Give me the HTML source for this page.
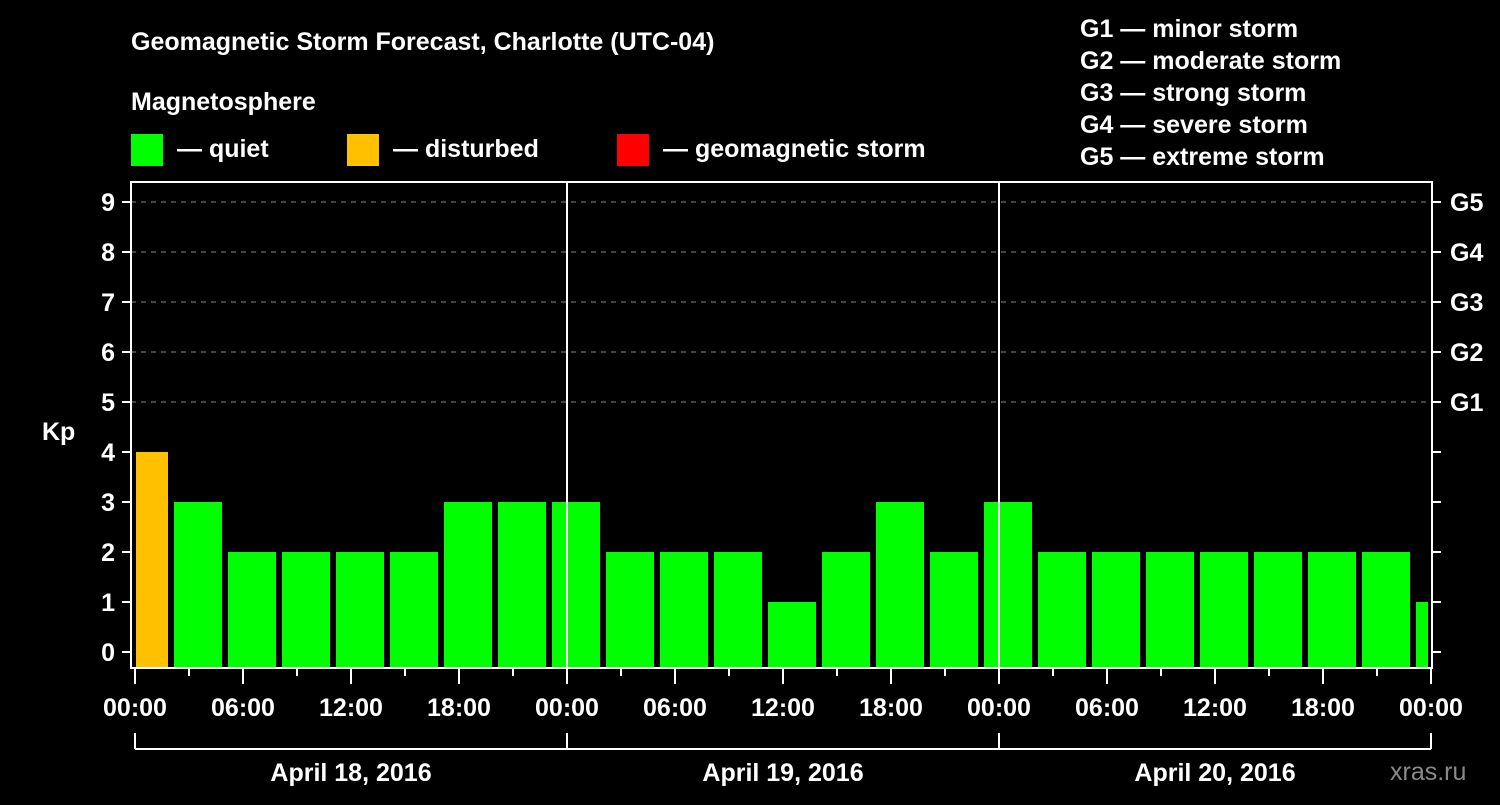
<!DOCTYPE html>
<html><head><meta charset="utf-8"><style>
body{margin:0;background:#000;width:1500px;height:800px;overflow:hidden;font-family:"Liberation Sans",sans-serif}
svg text{font-family:"Liberation Sans",sans-serif;font-weight:bold;fill:#fff}
</style></head><body>
<svg id="chart" width="1500" height="800" xmlns="http://www.w3.org/2000/svg">
<text x="131" y="50" font-size="25">Geomagnetic Storm Forecast, Charlotte (UTC-04)</text>
<text x="131" y="110" font-size="25">Magnetosphere</text>
<g>
<rect x="131" y="134" width="32" height="32" fill="#00ff00"/>
<text x="177" y="157" font-size="25">— quiet</text>
<rect x="347" y="134" width="32" height="32" fill="#ffc000"/>
<text x="393" y="157" font-size="25">— disturbed</text>
<rect x="617" y="134" width="32" height="32" fill="#ff0000"/>
<text x="663" y="157" font-size="25">— geomagnetic storm</text>
</g>
<g font-size="25">
<text x="1080" y="37">G1 — minor storm</text>
<text x="1080" y="69">G2 — moderate storm</text>
<text x="1080" y="101">G3 — strong storm</text>
<text x="1080" y="133">G4 — severe storm</text>
<text x="1080" y="165">G5 — extreme storm</text>
</g>
<text x="42" y="440" font-size="25">Kp</text>
<text x="1390" y="780" font-size="25" fill="#888" style="fill:#8a8a8a;font-weight:normal">xras.ru</text>
<g id="grid"></g><g id="bars"></g><g id="axes"></g>
</svg>
<script>
const kpValues=[4,3,2,2,2,2,3,3,3,2,2,2,1,2,3,2,3,2,2,2,2,2,2,2,1];
const startHour=-1;
const yTicks=[0,1,2,3,4,5,6,7,8,9];
const gLabels=["G1","G2","G3","G4","G5"];
const xTickLabels=["00:00","06:00","12:00","18:00","00:00","06:00","12:00","18:00","00:00","06:00","12:00","18:00","00:00"];
const dayLabels=["April 18, 2016","April 19, 2016","April 20, 2016"];
const NS="http://www.w3.org/2000/svg";
const L=131,R=1432,T=182,B=668;
const x=h=>135+h*18;
const y=k=>652-k*50;
function mk(tag,parent,attrs){const e=document.createElementNS(NS,tag);for(const k in attrs)e.setAttribute(k,attrs[k]);document.getElementById(parent).appendChild(e);return e;}
// grid
for(let k=5;k<=9;k++){const e=mk('line','grid',{x1:L,x2:R,y1:y(k),y2:y(k),stroke:'#888','stroke-dasharray':'5,5','stroke-width':1});

}
// bars
kpValues.forEach((v,i)=>{const h0=startHour+i*3;let x0=Math.max(x(h0)+3,136),x1=Math.min(x(h0+3)-3,1428);
const c=v>=5?'#ff0000':(v>=4?'#ffc000':'#00ff00');
const e=mk('rect','bars',{x:x0,y:y(v),width:x1-x0,height:667-y(v),fill:c});

});
// frame
const f=mk('rect','axes',{x:L,y:T,width:R-L,height:B-T,fill:'none',stroke:'#fff','stroke-width':2});


[24,48].forEach(h=>{const e=mk('line','axes',{x1:x(h),x2:x(h),y1:T,y2:B,stroke:'#fff','stroke-width':2});

});
yTicks.forEach(k=>{
const a=mk('line','axes',{x1:122,x2:L,y1:y(k),y2:y(k),stroke:'#fff','stroke-width':2});


const b=mk('line','axes',{x1:R,x2:1441,y1:y(k),y2:y(k),stroke:'#fff','stroke-width':2});


const t=mk('text','axes',{x:115,y:y(k)+9,'text-anchor':'end','font-size':25});t.textContent=k;

});
gLabels.forEach((g,i)=>{const t=mk('text','axes',{x:1450,y:y(5+i)+9,'font-size':25});t.textContent=g;

});
for(let h=0;h<=72;h+=3){const big=h%6===0;const e=mk('line','axes',{x1:x(h),x2:x(h),y1:B,y2:B+(big?16:8),stroke:'#fff','stroke-width':2});

}
xTickLabels.forEach((s,i)=>{const t=mk('text','axes',{x:x(i*6),y:716,'text-anchor':'middle','font-size':25});t.textContent=s;

});
const br=mk('line','axes',{x1:x(0),x2:x(72),y1:749,y2:749,stroke:'#fff','stroke-width':2});


[0,24,48,72].forEach(h=>{const e=mk('line','axes',{x1:x(h),x2:x(h),y1:733,y2:749,stroke:'#fff','stroke-width':2});

});
dayLabels.forEach((s,i)=>{const t=mk('text','axes',{x:x(i*24+12),y:781,'text-anchor':'middle','font-size':25});t.textContent=s;

});
</script>
</body></html>
